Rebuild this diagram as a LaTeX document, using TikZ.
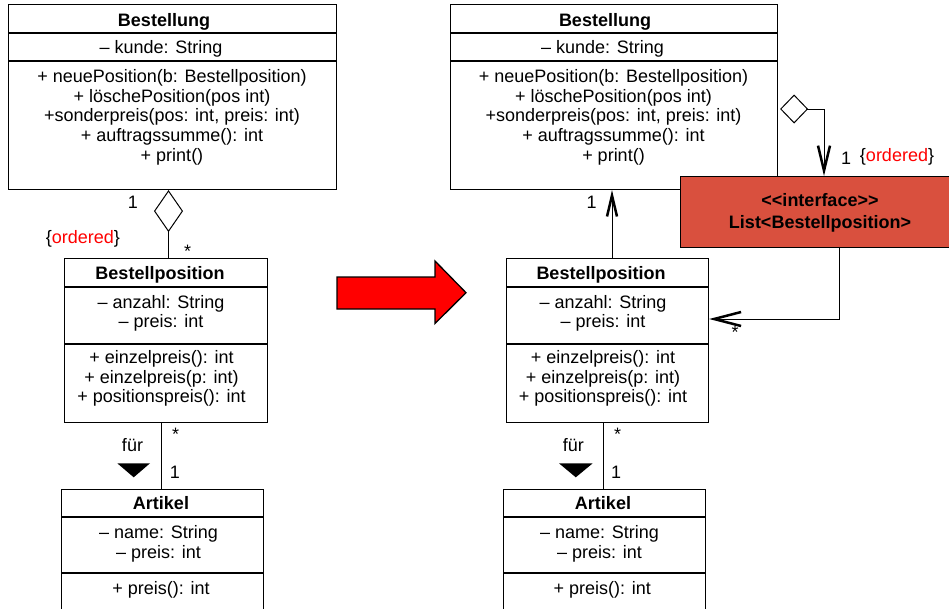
\documentclass[tikz,border=0pt]{standalone}
\usepackage{fontspec}
\setmainfont{Liberation Sans}[Ligatures=TeXOff]
\usepackage{tikz}
\usetikzlibrary{arrows.meta,positioning}
\definecolor{ifacered}{RGB}{217,80,62}

\begin{document}
\begin{tikzpicture}[x=1pt,y=-1pt,
    every node/.style={inner sep=0pt,font=\fontsize{18}{19.6}\selectfont},
    classbox/.style={draw,line width=1.1pt,anchor=north west},
    classname/.style={font=\fontsize{18}{19.6}\selectfont\bfseries},
    members/.style={align=center},
    divider/.style={line width=1.1pt},
    assoc/.style={line width=1pt},
    ifacebox/.style={draw,line width=1.3pt,fill=ifacered,anchor=north west}]
      \useasboundingbox (0,0) rectangle (949,608);
      \clip (0,0) rectangle (949,608);
      % Vorher: Bestellung aggregiert die Positionen direkt
      \node[classbox,minimum width=328pt,minimum height=185pt] (bestL) at (8,4) {};
      \draw[divider] ([yshift=-29pt]bestL.north west) -- ([yshift=-29pt]bestL.north east);
      \draw[divider] ([yshift=-57pt]bestL.north west) -- ([yshift=-57pt]bestL.north east);
      \node[classname] (bestLname) at (164,21.4) {Bestellung};
      \node (bestLattr) at (161,48.7) {– kunde: String};
      \node[members] (bestLops) at (172,117.2) {+ neuePosition(b: Bestellposition)\\+ löschePosition(pos int)\\+sonderpreis(pos: int, preis: int)\\+ auftragssumme(): int\\+ print()};
      \node[classbox,minimum width=203pt,minimum height=164pt] (posL) at (64,258) {};
      \draw[divider] ([yshift=-29pt]posL.north west) -- ([yshift=-29pt]posL.north east);
      \draw[divider] ([yshift=-86pt]posL.north west) -- ([yshift=-86pt]posL.north east);
      \node[classname] (posLname) at (160,274.4) {Bestellposition};
      \node[members] (posLattr) at (161,313.2) {– anzahl: String\\– preis: int};
      \node[members] (posLops) at (161.5,378.7) {+ einzelpreis(): int\\+ einzelpreis(p: int)\\+ positionspreis(): int};
      \node[classbox,minimum width=202pt,minimum height=140pt] (artL) at (61,489) {};
      \draw[divider] ([yshift=-28pt]artL.north west) -- ([yshift=-28pt]artL.north east);
      \draw[divider] ([yshift=-84pt]artL.north west) -- ([yshift=-84pt]artL.north east);
      \node[classname] (artLname) at (161,502.8) {Artikel};
      \node[members] (artLattr) at (158.5,543.7) {– name: String\\– preis: int};
      \node (artLops) at (161,590.3) {+ preis(): int};
      \coordinate (aggL) at (168.5,0);
      \draw[assoc,{Diamond[open,length=42pt,width=29pt]}-] (bestL.south -| aggL) -- (posL.north -| aggL);
      \node (aggLone) at (133,202.5) {1};
      \node (aggLtag) at (82.8,238.6) {\{\textcolor{red}{ordered}\}};
      \node (aggLstar) at (187.7,251) {*};
      \coordinate (fuerL) at (161,0);
      \draw[assoc] (posL.south -| fuerL) -- (artL.north -| fuerL);
      \node (fuerLstar) at (175.7,433.9) {*};
      \node (fuerLtext) at (132.5,445.2) {für};
      \fill (117.3,463.3) -- (150,463.3) -- (133.7,477.3) -- cycle;
      \node (fuerLone) at (175,472.5) {1};
      % Umbau
      \draw[line width=1.3pt,fill=red] (337,277) -- (435,277) -- (435,261) -- (466,292.7) -- (435,323.5) -- (435,309) -- (337,309) -- cycle;
      % Nachher: Liste als Interface dazwischen
      \node[classbox,minimum width=327pt,minimum height=185pt] (bestR) at (450,4) {};
      \draw[divider] ([yshift=-29pt]bestR.north west) -- ([yshift=-29pt]bestR.north east);
      \draw[divider] ([yshift=-57pt]bestR.north west) -- ([yshift=-57pt]bestR.north east);
      \node[classname] (bestRname) at (605,21.4) {Bestellung};
      \node (bestRattr) at (602.5,48.7) {– kunde: String};
      \node[members] (bestRops) at (613.5,117.2) {+ neuePosition(b: Bestellposition)\\+ löschePosition(pos int)\\+sonderpreis(pos: int, preis: int)\\+ auftragssumme(): int\\+ print()};
      \node[classbox,minimum width=202pt,minimum height=164pt] (posR) at (506,258) {};
      \draw[divider] ([yshift=-29pt]posR.north west) -- ([yshift=-29pt]posR.north east);
      \draw[divider] ([yshift=-86pt]posR.north west) -- ([yshift=-86pt]posR.north east);
      \node[classname] (posRname) at (601,274.4) {Bestellposition};
      \node[members] (posRattr) at (603,313.2) {– anzahl: String\\– preis: int};
      \node[members] (posRops) at (603,378.7) {+ einzelpreis(): int\\+ einzelpreis(p: int)\\+ positionspreis(): int};
      \node[classbox,minimum width=202pt,minimum height=140pt] (artR) at (503,489) {};
      \draw[divider] ([yshift=-28pt]artR.north west) -- ([yshift=-28pt]artR.north east);
      \draw[divider] ([yshift=-84pt]artR.north west) -- ([yshift=-84pt]artR.north east);
      \node[classname] (artRname) at (603,502.8) {Artikel};
      \node[members] (artRattr) at (599.5,543.7) {– name: String\\– preis: int};
      \node (artRops) at (602.2,590.3) {+ preis(): int};
      \coordinate (upR) at (612,0);
      \draw[assoc,-{Straight Barb[length=21pt,width=10pt,line width=2.5pt]}] (posR.north -| upR) -- (bestR.south -| upR);
      \node (upRone) at (591.7,202.7) {1};
      \coordinate (fuerR) at (603,0);
      \draw[assoc] (posR.south -| fuerR) -- (artR.north -| fuerR);
      \node (fuerRstar) at (617.7,433.9) {*};
      \node (fuerRtext) at (573.3,445.2) {für};
      \fill (559,463.3) -- (592.7,463.3) -- (575.8,477.3) -- cycle;
      \node (fuerRone) at (616,472.5) {1};
      \node[ifacebox,minimum width=280pt,minimum height=71pt] (listIf) at (680,176) {};
      \node[align=center,font=\fontsize{18}{21.6}\selectfont\bfseries] (listIfname) at (820,212.9) {<<interface>>\\List<Bestellposition>};
      \coordinate (aggR) at (824,109);
      \draw[assoc,shorten <=2pt,{Diamond[open,length=28pt,width=29pt]}-{Straight Barb[length=25pt,width=12pt,line width=2.5pt]}] (aggR -| bestR.east) -- (aggR) -- (aggR |- listIf.north);
      \node (aggRone) at (846,158.5) {1};
      \node (aggRtag) at (897,157) {\{\textcolor{red}{ordered}\}};
      \coordinate (lstR) at (839,319);
      \draw[assoc,-{Straight Barb[length=27pt,width=14pt,line width=2.5pt]}] (listIf.south -| lstR) -- (lstR) -- (lstR -| posR.east);
      \node (lstRstar) at (735,332) {*};
    \end{tikzpicture}
\end{document}
